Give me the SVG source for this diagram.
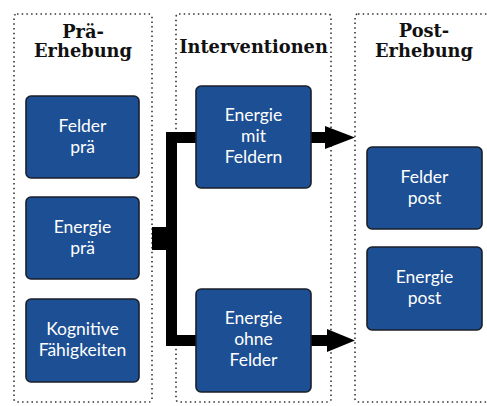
<svg xmlns="http://www.w3.org/2000/svg" width="487" height="406" viewBox="0 0 487 406">
<style>
.panel{fill:none;stroke:#333;stroke-width:1.6;stroke-dasharray:1.5 3.2}
.title{font-family:"DejaVu Serif",serif;font-weight:bold;font-size:17.8px;fill:#111;text-anchor:middle}
.box{fill:#1c4f93;stroke:#1b1f2a;stroke-width:1.6}
.lbl{font-family:"Lato","Open Sans",sans-serif;font-size:17.5px;fill:#fff;text-anchor:middle}
.conn{fill:#000;stroke:none}
</style>
<rect width="487" height="406" fill="#fff"/>
<g id="panels">
<rect class="panel" x="14" y="14" width="138" height="388" rx="3"/>
<rect class="panel" x="176" y="14" width="155" height="388" rx="3"/>
<rect class="panel" x="355" y="14" width="140" height="388" rx="3"/>
<text class="title" x="83" y="38">Prä-</text>
<text class="title" x="83" y="57">Erhebung</text>
<text class="title" x="253.5" y="53">Interventionen</text>
<text class="title" x="424" y="37">Post-</text>
<text class="title" x="424" y="57">Erhebung</text>
</g>
<g id="connectors">
<rect class="conn" x="152" y="227" width="16" height="23"/>
<rect class="conn" x="166" y="132" width="11" height="214"/>
<rect class="conn" x="166" y="132" width="31" height="11"/>
<rect class="conn" x="166" y="335" width="31" height="11"/>
<rect class="conn" x="310" y="132" width="17" height="11"/>
<polygon class="conn" points="325,126 355,137.5 325,149"/>
<rect class="conn" x="310" y="335" width="19" height="11"/>
<polygon class="conn" points="327,329 355,340.5 327,352"/>
</g>
<g id="felder-prae">
<rect class="box" x="26" y="96" width="113" height="82" rx="5"/>
<text class="lbl" x="82.5" y="132">Felder</text>
<text class="lbl" x="82.5" y="153">prä</text>
</g>
<g id="energie-prae">
<rect class="box" x="26" y="197" width="113" height="82" rx="5"/>
<text class="lbl" x="82.5" y="233">Energie</text>
<text class="lbl" x="82.5" y="254">prä</text>
</g>
<g id="kognitive">
<rect class="box" x="26" y="299" width="113" height="83" rx="5"/>
<text class="lbl" x="82.5" y="335">Kognitive</text>
<text class="lbl" x="82.5" y="356">Fähigkeiten</text>
</g>
<g id="energie-mit">
<rect class="box" x="196" y="86" width="115" height="102" rx="5"/>
<text class="lbl" x="253.5" y="121">Energie</text>
<text class="lbl" x="253.5" y="142">mit</text>
<text class="lbl" x="253.5" y="163">Feldern</text>
</g>
<g id="energie-ohne">
<rect class="box" x="196" y="289" width="115" height="103" rx="5"/>
<text class="lbl" x="253.5" y="324">Energie</text>
<text class="lbl" x="253.5" y="345">ohne</text>
<text class="lbl" x="253.5" y="366">Felder</text>
</g>
<g id="felder-post">
<rect class="box" x="367" y="147" width="115" height="82" rx="5"/>
<text class="lbl" x="424.5" y="183">Felder</text>
<text class="lbl" x="424.5" y="204">post</text>
</g>
<g id="energie-post">
<rect class="box" x="367" y="247" width="115" height="83" rx="5"/>
<text class="lbl" x="424.5" y="283">Energie</text>
<text class="lbl" x="424.5" y="304">post</text>
</g>
</svg>
